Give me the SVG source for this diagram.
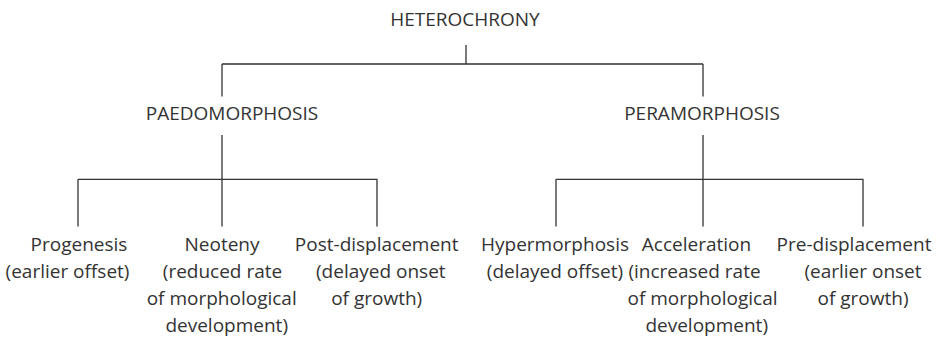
<svg xmlns="http://www.w3.org/2000/svg" width="945" height="337" viewBox="0 0 945 337">
<style>
text{font-family:"Open Sans","Noto Sans","Liberation Sans",sans-serif;font-size:19px;fill:#333;text-anchor:middle;font-weight:400}
.c{stroke:#333;stroke-width:1.3;fill:none}
</style>
<rect width="945" height="337" fill="#fff"/>
<g id="connectors" class="c">
<path d="M466 45V64M222 64H703M222 64V96.5M703 64V96.5"/>
<path d="M222 135V179.3M78 179.3H377.5M78 179.3V226.5M222 179.3V226.5M377 179.3V226.5"/>
<path d="M703 135V179.3M556 179.3H863.5M556 179.3V226.5M703 179.3V226.5M863 179.3V226.5"/>
</g>
<g id="heterochrony"><text x="465" y="26">HETEROCHRONY</text></g>
<g id="paedomorphosis"><text x="232" y="120">PAEDOMORPHOSIS</text></g>
<g id="peramorphosis"><text x="702" y="120">PERAMORPHOSIS</text></g>
<g id="progenesis"><text x="79" y="251">Progenesis</text><text x="67.5" y="278">(earlier offset)</text></g>
<g id="neoteny"><text x="222" y="251">Neoteny</text><text x="222.5" y="278">(reduced rate</text><text x="221.7" y="305">of morphological</text><text x="226.7" y="332">development)</text></g>
<g id="post-displacement"><text x="376.7" y="251">Post-displacement</text><text x="380.8" y="278">(delayed onset</text><text x="376.7" y="305">of growth)</text></g>
<g id="hypermorphosis"><text x="555" y="251">Hypermorphosis</text><text x="555" y="278">(delayed offset)</text></g>
<g id="acceleration"><text x="696.5" y="251">Acceleration</text><text x="694.5" y="278">(increased rate</text><text x="702.5" y="305">of morphological</text><text x="706.7" y="332">development)</text></g>
<g id="pre-displacement"><text x="854" y="251">Pre-displacement</text><text x="863" y="278">(earlier onset</text><text x="863" y="305">of growth)</text></g>
</svg>
